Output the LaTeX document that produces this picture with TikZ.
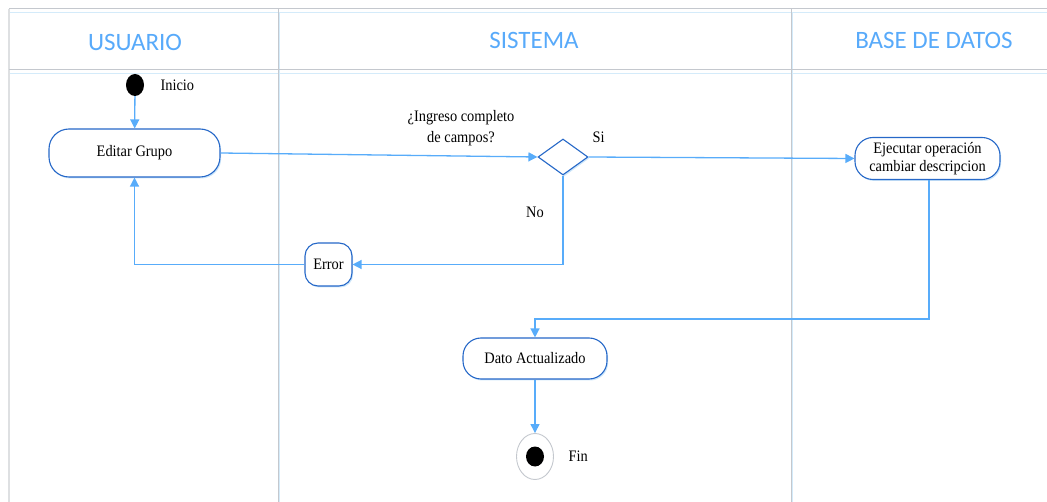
\documentclass[tikz,border=0pt]{standalone}
\usepackage{fontspec}
\setmainfont{Liberation Serif}[FakeStretch=0.9]
\newfontfamily\headfont{Carlito}
\usetikzlibrary{arrows.meta,shapes.geometric,shadows}

\definecolor{flow}{RGB}{88,172,250}
\definecolor{edgeblue}{RGB}{38,104,200}
\definecolor{glow}{RGB}{205,230,250}
\definecolor{rulegray}{RGB}{196,200,206}
\definecolor{borderlt}{RGB}{222,224,226}
\definecolor{rulelight}{RGB}{212,235,250}
\definecolor{headblue}{RGB}{88,170,250}

\begin{document}
\begin{tikzpicture}[x=1pt,y=-1pt,
  action/.style={draw=edgeblue, fill=white, line width=1.1pt, align=center,
    inner sep=0pt, font=\fontsize{16}{18.5}\selectfont,
    drop shadow={shadow xshift=1.2pt, shadow yshift=-1.5pt, fill=glow, opacity=1}},
  decision/.style={diamond, draw=edgeblue, fill=white, line width=1.1pt, inner sep=0pt,
    minimum width=50pt, minimum height=36pt,
    drop shadow={shadow xshift=1.2pt, shadow yshift=-1.5pt, fill=glow, opacity=1}},
  flow/.style={draw=flow, line width=1.3pt, -{Triangle[length=9pt,width=9pt]}},
  lbl/.style={font=\fontsize{16}{21}\selectfont, align=center},
  lane/.style={draw=rulegray, line width=1pt},
  lanelt/.style={draw=rulelight, line width=0.8pt},
  head/.style={text=headblue, font=\headfont\fontsize{25}{30}\selectfont}]

\useasboundingbox (0,0) rectangle (1047,502);

% swimlane frame
\draw[lanelt] (9,12) -- (1047,12);
\draw[lanelt] (9,73) -- (1047,73);
\draw[lanelt] (279.5,12) -- (279.5,502);
\draw[lanelt] (792.5,12) -- (792.5,502);
\draw[draw=borderlt, line width=2.5pt] (9,9) -- (9,502);
\draw[lane] (9,9) -- (1047,9);
\draw[lane] (9,70) -- (1047,70);
\draw[lane] (278,9) -- (278,502);
\draw[lane] (791,9) -- (791,502);

\node[head] (hUser) at (135,42) {USUARIO};
\node[head] (hSys)  at (534,40) {SISTEMA};
\node[head] (hDb)   at (934,40) {BASE DE DATOS};

% activity nodes
\node[ellipse, fill=black, minimum width=18pt, minimum height=22pt, inner sep=0pt] (start) at (135,85) {};
\node[lbl, anchor=west] (startLbl) at (157,85) {Inicio};

\node[action, minimum width=171pt, minimum height=48pt, rounded corners=20pt] (editar) at (134.5,153) {Editar Grupo};

\node[decision] (dec) at (563,157) {};
\node[lbl] (decLbl) at (461,128) {¿Ingreso completo\\de campos?};
\node[lbl, anchor=west] (siLbl) at (589,137) {Si};
\node[lbl] (noLbl) at (535,212) {No};

\node[action, minimum width=145pt, minimum height=42pt, rounded corners=18pt] (ejec) at (927.5,158.5) {Ejecutar operación\\cambiar descripcion};

\node[action, minimum width=47pt, minimum height=43pt, rounded corners=13pt] (error) at (328.5,264.5) {Error};

\node[action, minimum width=144pt, minimum height=41pt, rounded corners=18pt] (dato) at (535,358.5) {Dato Actualizado};

\node[ellipse, draw=rulegray, fill=white, line width=0.9pt, minimum width=37pt, minimum height=46pt, inner sep=0pt] (fin) at (535,456.5) {};
\node[ellipse, fill=black, minimum width=18pt, minimum height=20pt, inner sep=0pt] (finDot) at (fin.center) {};
\node[lbl, anchor=west] (finLbl) at (565,456) {Fin};

\coordinate (bend) at (929,319);

% control flow
\draw[flow] (start) -- (editar);
\draw[flow] (editar.east) -- (dec.west);
\draw[flow] (dec.east) -- (ejec.west);
\draw[flow] (dec.south) |- (error.east);
\draw[flow] (error.west) -| (editar.south);
\draw[flow] (ejec.south -| bend) -- (bend) -| (dato.north);
\draw[flow] (dato.south) -- (fin.north);

\end{tikzpicture}
\end{document}
